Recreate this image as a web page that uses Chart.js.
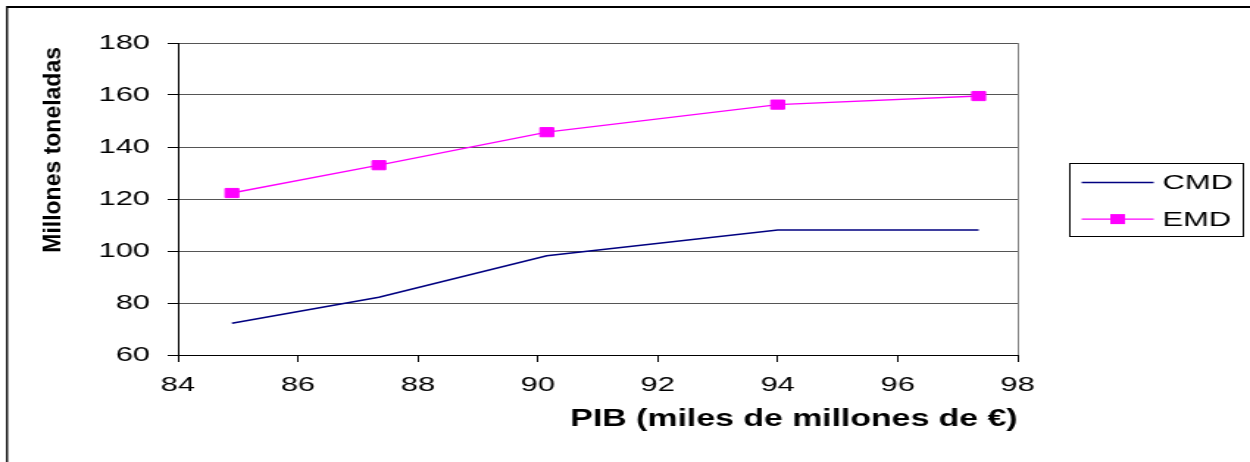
<!DOCTYPE html>
<html>
<head>
<meta charset="utf-8">
<title>CMD / EMD vs PIB</title>
<script src="https://cdn.jsdelivr.net/npm/chart.js@4.4.1/dist/chart.umd.min.js"></script>
<style>
    html, body { margin: 0; padding: 0; background: #fff; overflow: hidden; }
    #chart { display: block; }
</style>
</head>
<body>
<!-- the original picture is stretched sideways, so the canvas is too -->
<canvas id="chart" width="850" height="462" style="width:1250px;height:462px"></canvas>
<script>
// Data
const pib = [84.9, 87.35, 90.15, 94.0, 97.35];
const cmd = [72.2, 82.2, 98.2, 108.1, 108.1];
const emd = [122.3, 133.0, 145.7, 156.3, 159.6];
const seriesNames = ['CMD', 'EMD'];
const xTitle = 'PIB (miles de millones de €)';
const yTitle = 'Millones toneladas';

Chart.defaults.font.family = '"Liberation Sans", Arial, sans-serif';
Chart.defaults.color = '#000';

const toPoints = ys => ys.map((y, i) => ({ x: pib[i], y: y }));

// Frame + rotated y title, drawn un-stretched
const framePlugin = {
    id: 'frame',
    afterDraw(chart) {
        const ctx = chart.ctx;
        const s = chart.canvas.clientWidth / chart.width;
        ctx.save();
        ctx.scale(1 / s, 1);
        ctx.strokeStyle = '#000';
        ctx.lineWidth = 2;
        ctx.strokeRect(7, 7, 1400, 600);

        ctx.translate(54, chart.chartArea.top + 4);
        ctx.rotate(-Math.PI / 2);
        ctx.font = 'bold 23px "Liberation Sans", Arial, sans-serif';
        ctx.fillStyle = '#000';
        ctx.textAlign = 'right';
        ctx.textBaseline = 'middle';
        ctx.fillText(yTitle, 0, 0);
        ctx.restore();
    }
};

// Legend box on the right (line + marker like the original)
const legendPlugin = {
    id: 'boxLegend',
    afterDraw(chart) {
        const ctx = chart.ctx;
        const left = chart.chartArea.right + 35.5;
        const top = 163.5;
        const w = 118, h = 73;
        ctx.save();
        ctx.fillStyle = '#fff';
        ctx.fillRect(left, top, w, h);
        ctx.strokeStyle = '#000';
        ctx.lineWidth = 1;
        ctx.strokeRect(left, top, w, h);

        chart.data.datasets.forEach((ds, i) => {
            const y = top + 19 + i * 36.6;
            ctx.strokeStyle = ds.borderColor;
            ctx.lineWidth = ds.borderWidth;
            ctx.beginPath();
            ctx.moveTo(left + 8, y);
            ctx.lineTo(left + 57, y);
            ctx.stroke();
            if (ds.pointRadius > 0) {
                ctx.fillStyle = ds.pointBackgroundColor;
                ctx.fillRect(left + 32.5 - 5, y - 5, 10, 10);
            }
            ctx.fillStyle = '#000';
            ctx.font = '21px "Liberation Sans", Arial, sans-serif';
            ctx.textAlign = 'left';
            ctx.textBaseline = 'middle';
            ctx.fillText(ds.label, left + 63, y + 1);
        });
        ctx.restore();
    }
};

const chart = new Chart(document.getElementById('chart'), {
    type: 'line',
    data: {
        datasets: [
            {
                label: seriesNames[0],
                data: toPoints(cmd),
                borderColor: '#000080',
                backgroundColor: '#000080',
                borderWidth: 1.6,
                pointRadius: 0,
                tension: 0
            },
            {
                label: seriesNames[1],
                data: toPoints(emd),
                borderColor: '#ff00ff',
                backgroundColor: '#ff00ff',
                pointBackgroundColor: '#ff00ff',
                pointBorderColor: '#ff00ff',
                borderWidth: 1.4,
                pointStyle: 'rect',
                pointRadius: 6.5,
                pointBorderWidth: 1,
                tension: 0
            }
        ]
    },
    options: {
        responsive: false,
        animation: false,
        layout: { padding: { left: 0, top: 43, right: 158, bottom: 0 } },
        plugins: {
            legend: { display: false },
            tooltip: { enabled: false }
        },
        scales: {
            x: {
                type: 'linear',
                min: 84,
                max: 98,
                afterFit: s => { s.height = 107; },
                ticks: {
                    stepSize: 2,
                    padding: 11,
                    maxRotation: 0,
                    font: { size: 21 },
                    color: '#000'
                },
                grid: {
                    color: c => (c.tick && c.tick.value === 98) ? '#808080' : 'rgba(0,0,0,0)',
                    tickColor: '#000',
                    tickLength: 7,
                    lineWidth: 1
                },
                border: { color: '#000', width: 1 },
                title: {
                    display: true,
                    text: xTitle,
                    align: 'end',
                    font: { size: 23, weight: 'bold' },
                    color: '#000',
                    padding: { top: 0, bottom: 29 }
                }
            },
            y: {
                min: 60,
                max: 180,
                afterFit: s => { s.width = 121; },
                ticks: {
                    stepSize: 20,
                    padding: 12,
                    font: { size: 21 },
                    color: '#000'
                },
                grid: {
                    color: '#555',
                    tickColor: '#000',
                    tickLength: 7,
                    lineWidth: 1
                },
                border: { color: '#000', width: 1 }
            }
        }
    },
    plugins: [framePlugin, legendPlugin]
});
</script>
</body>
</html>
